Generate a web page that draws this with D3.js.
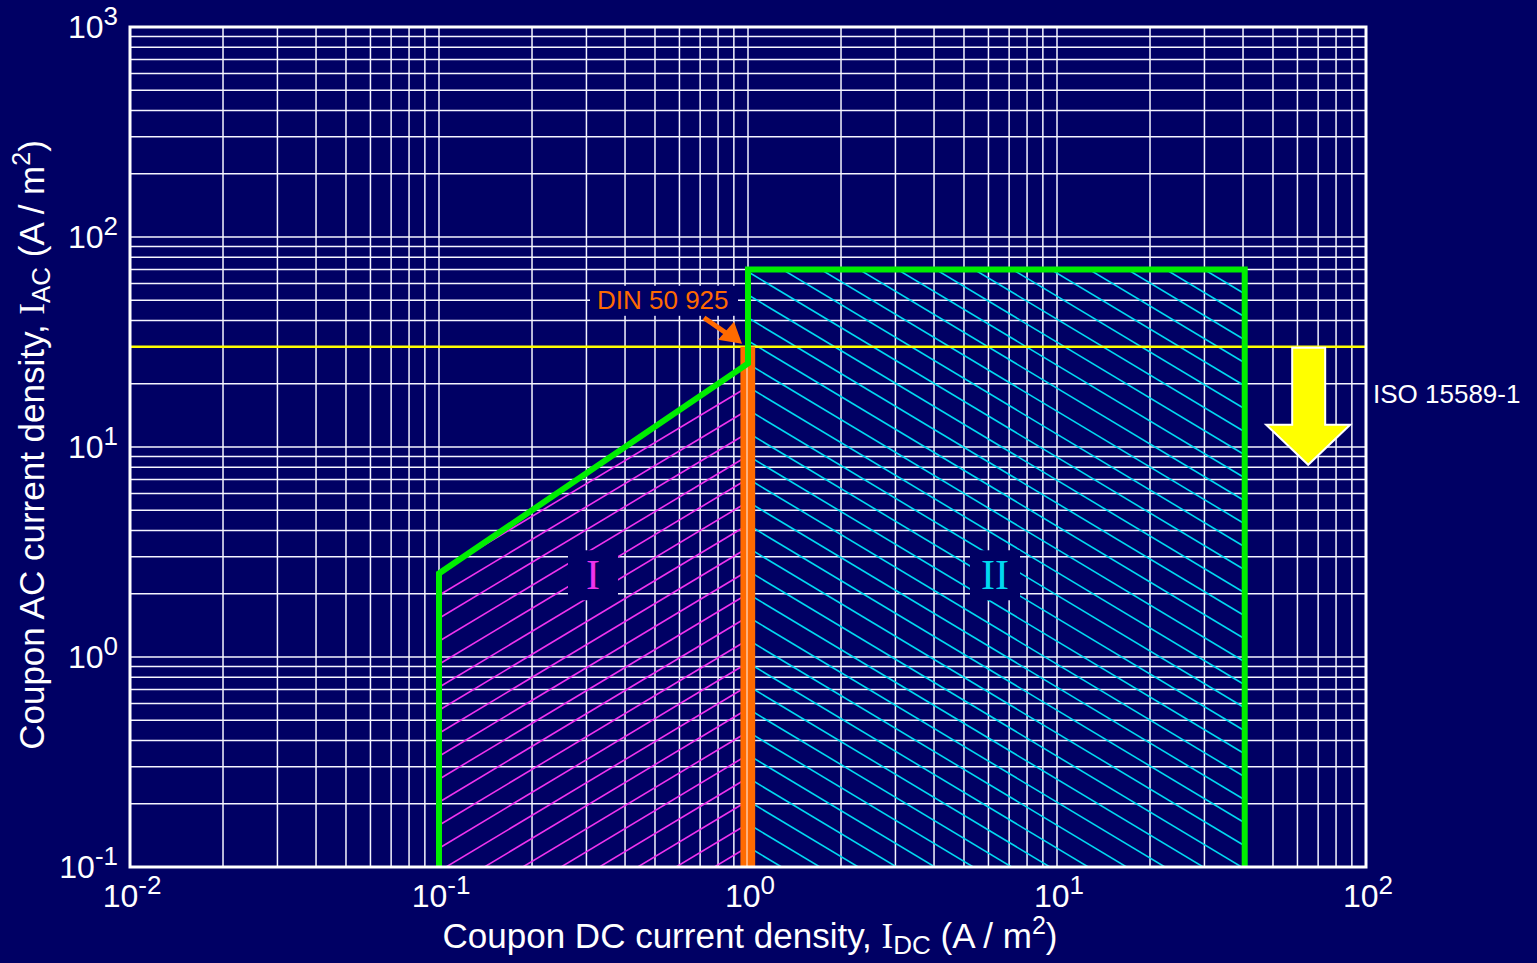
<!DOCTYPE html>
<html>
<head>
<meta charset="utf-8">
<script src="https://cdn.jsdelivr.net/npm/d3@7"></script>
<style>
  html, body { margin: 0; padding: 0; background: #000064; }
  svg { display: block; }
</style>
</head>
<body>
<svg id="chart" width="1537" height="963"></svg>
<script>
const W = 1537, H = 963;
const margin = { left: 130, top: 27, right: 171, bottom: 96 };
const bg = "#000064";
const green = "#00ee00";
const orange = "#ff6a00";
const magenta = "#ee33ee";
const cyan = "#00d8f0";
const font = "Liberation Sans, Arial, sans-serif";
const serif = "Liberation Serif, Times New Roman, serif";

// axis ranges and tick labels (exponents of 10)
const xDomain = [0.01, 100];
const yDomain = [0.1, 1000];
const xTickExp = [-2, -1, 0, 1, 2];
const yTickExp = [-1, 0, 1, 2, 3];

// criteria boundary (green) and regions
const boundary = [[0.1, 0.1], [0.1, 2.5], [1, 25], [1, 70], [40.5, 70], [40.5, 0.1]];
const regionI = [[0.1, 0.1], [0.1, 2.5], [1, 25], [1, 0.1]];
const regionII = [[1, 0.1], [1, 70], [40.5, 70], [40.5, 0.1]];
const isoLimit = 30;            // ISO 15589-1, A/m2
const dinBand = [0.945, 1.055]; // DIN 50 925, A/m2
const arrowX = 65;

const svg = d3.select("#chart");
svg.append("rect").attr("width", W).attr("height", H).attr("fill", bg);

const x = d3.scaleLog().domain(xDomain).range([margin.left, W - margin.right]);
const y = d3.scaleLog().domain(yDomain).range([H - margin.bottom, margin.top]);
const x0 = x.range()[0], x1 = x.range()[1];
const y0 = y.range()[1], y1 = y.range()[0];

// grid
const grid = svg.append("g");
grid.selectAll(".vx").data(x.ticks()).join("line")
  .attr("x1", d => x(d)).attr("x2", d => x(d))
  .attr("y1", y0).attr("y2", y1)
  .attr("stroke", "#f4f4ff").attr("stroke-width", 1.5);
grid.selectAll(".hy").data(y.ticks()).join("line")
  .attr("x1", x0).attr("x2", x1)
  .attr("y1", d => y(d)).attr("y2", d => y(d))
  .attr("stroke", "#f4f4ff").attr("stroke-width", 1.5);

// clip paths for hatching
const defs = svg.append("defs");
const poly = pts => pts.map(p => [x(p[0]), y(p[1])]);
defs.append("clipPath").attr("id", "clipI")
  .append("polygon").attr("points", poly(regionI).join(" "));
defs.append("clipPath").attr("id", "clipII")
  .append("polygon").attr("points", poly(regionII).join(" "));

const bx = x(1);
const step = 23, slope = 0.6, len = 800;
const hatchRows = d3.range(-40, 40).map(k => y(isoLimit) + 17 + k * step);

svg.append("g").attr("clip-path", "url(#clipI)")
  .selectAll("line").data(hatchRows).join("line")
  .attr("x1", bx).attr("y1", d => d)
  .attr("x2", bx - len).attr("y2", d => d + slope * len)
  .attr("stroke", magenta).attr("stroke-width", 1.6);

svg.append("g").attr("clip-path", "url(#clipII)")
  .selectAll("line").data(hatchRows).join("line")
  .attr("x1", bx).attr("y1", d => d)
  .attr("x2", bx + len).attr("y2", d => d + slope * len)
  .attr("stroke", cyan).attr("stroke-width", 1.6);

// ISO limit line
svg.append("line")
  .attr("x1", x0).attr("x2", x1)
  .attr("y1", y(isoLimit)).attr("y2", y(isoLimit))
  .attr("stroke", "#ffff00").attr("stroke-width", 2.5);

// DIN band
svg.append("rect")
  .attr("x", x(dinBand[0])).attr("y", y(isoLimit))
  .attr("width", x(dinBand[1]) - x(dinBand[0]))
  .attr("height", y1 - y(isoLimit))
  .attr("fill", orange);
svg.append("line")
  .attr("x1", bx - 1).attr("x2", bx - 1)
  .attr("y1", y(isoLimit)).attr("y2", y1)
  .attr("stroke", "#ffc8a0").attr("stroke-width", 1.5);

// green boundary
svg.append("path")
  .attr("d", d3.line().x(d => x(d[0])).y(d => y(d[1]))(boundary))
  .attr("fill", "none").attr("stroke", green)
  .attr("stroke-width", 6).attr("stroke-linejoin", "miter");

// plot frame
svg.append("rect")
  .attr("x", x0).attr("y", y0)
  .attr("width", x1 - x0).attr("height", y1 - y0)
  .attr("fill", "none").attr("stroke", "white").attr("stroke-width", 3);

// region labels with background boxes
function regionLabel(cx, cy, txt, color) {
  svg.append("rect").attr("x", cx - 25).attr("y", cy - 25)
    .attr("width", 50).attr("height", 50).attr("fill", bg);
  svg.append("text").attr("x", cx).attr("y", cy + 14)
    .attr("text-anchor", "middle").attr("font-family", serif)
    .attr("font-size", 42).attr("fill", color).text(txt);
}
regionLabel(x(0.315), y(2.45), "I", magenta);
regionLabel(x(6.3), y(2.45), "II", cyan);

// DIN label + arrow
const dinY = y(isoLimit) - 47;
svg.append("rect").attr("x", bx - 158).attr("y", dinY - 14)
  .attr("width", 148).attr("height", 30).attr("fill", bg);
svg.append("text").attr("x", bx - 151).attr("y", dinY + 9)
  .attr("font-family", font).attr("font-size", 26)
  .attr("fill", orange).text("DIN 50 925");
const tipX = bx - 6, tipY = y(isoLimit) - 3;
svg.append("line")
  .attr("x1", bx - 44).attr("y1", y(isoLimit) - 29)
  .attr("x2", tipX - 12).attr("y2", tipY - 8)
  .attr("stroke", orange).attr("stroke-width", 5);
svg.append("polygon")
  .attr("points", [[tipX, tipY], [tipX - 24, tipY - 4], [tipX - 8, tipY - 22]].join(" "))
  .attr("fill", orange);

// ISO arrow
const ax = x(arrowX), at = y(isoLimit) + 1;
const arrowPts = [
  [ax - 16, at], [ax + 17, at], [ax + 17, at + 77], [ax + 42, at + 77],
  [ax, at + 117], [ax - 42, at + 77], [ax - 16, at + 77]
];
svg.append("polygon").attr("points", arrowPts.join(" "))
  .attr("fill", "#ffff00").attr("stroke", "white").attr("stroke-width", 2);
svg.append("text").attr("x", x1 + 7).attr("y", y(isoLimit) + 56)
  .attr("font-family", font).attr("font-size", 26)
  .attr("fill", "white").text("ISO 15589-1");

// tick labels
function powLabel(sel, e) {
  sel.append("tspan").text("10");
  sel.append("tspan").attr("dy", -13).attr("font-size", 26)
    .text(e < 0 ? "-" + Math.abs(e) : String(e));
}
xTickExp.forEach(e => {
  const t = svg.append("text").attr("x", x(Math.pow(10, e)) + 2).attr("y", y1 + 40)
    .attr("text-anchor", "middle").attr("font-family", font)
    .attr("font-size", 32).attr("fill", "white");
  powLabel(t, e);
});
yTickExp.forEach(e => {
  const t = svg.append("text").attr("x", x0 - 12).attr("y", y(Math.pow(10, e)) + 11)
    .attr("text-anchor", "end").attr("font-family", font)
    .attr("font-size", 32).attr("fill", "white");
  powLabel(t, e);
});

// axis titles
function axisTitle(sel, sub) {
  sel.append("tspan").text("Coupon " + sub + " current density, ");
  sel.append("tspan").attr("font-family", serif).text("I");
  sel.append("tspan").attr("dy", 6).attr("font-size", 26).text(sub);
  sel.append("tspan").attr("dy", -6).text(" (A / m");
  sel.append("tspan").attr("dy", -14).attr("font-size", 25).text("2");
  sel.append("tspan").attr("dy", 14).text(")");
}
const xt = svg.append("text").attr("x", 750).attr("y", 948)
  .attr("text-anchor", "middle").attr("font-family", font)
  .attr("font-size", 35).attr("fill", "white");
axisTitle(xt, "DC");

const yt = svg.append("text")
  .attr("transform", "translate(44,445) rotate(-90)")
  .attr("text-anchor", "middle").attr("font-family", font)
  .attr("font-size", 35).attr("fill", "white");
axisTitle(yt, "AC");
</script>
</body>
</html>
